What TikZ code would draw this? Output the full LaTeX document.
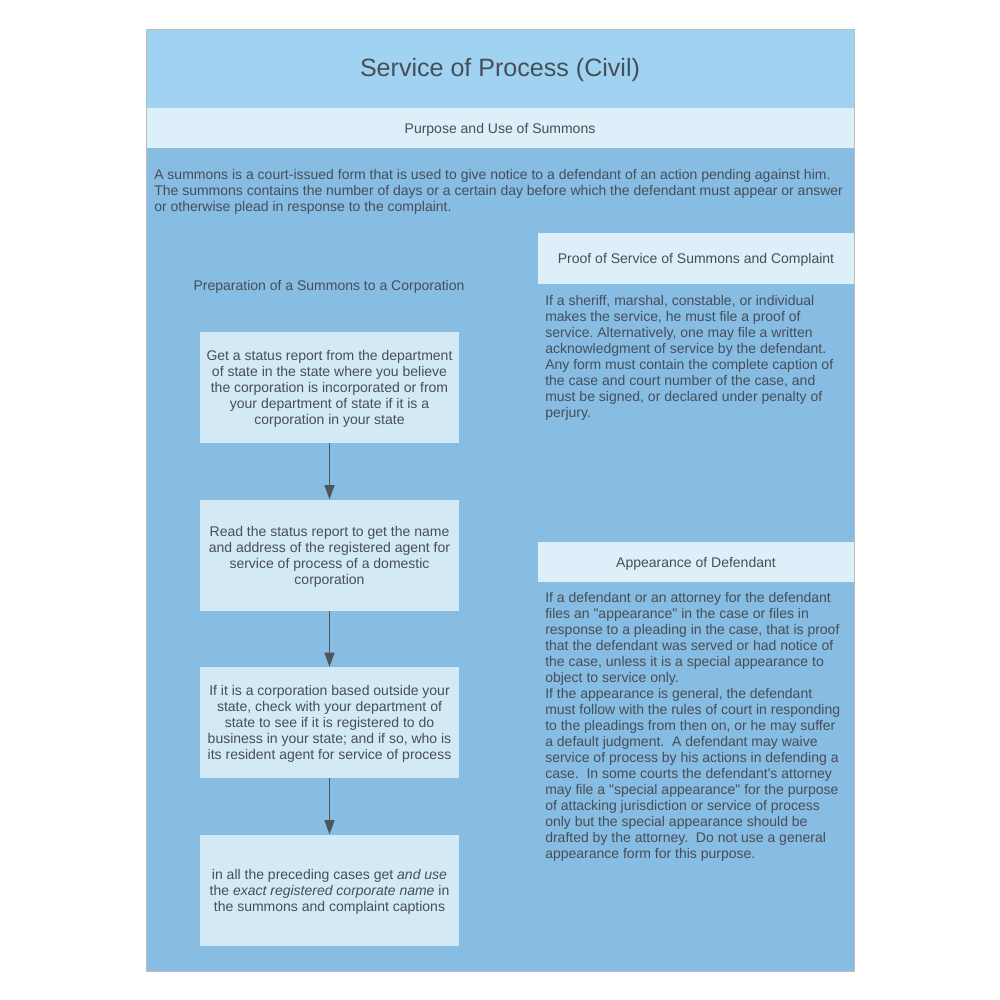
\documentclass[tikz,border=0pt]{standalone}
\usepackage{fontspec}
\setmainfont{Liberation Sans}
\usetikzlibrary{arrows.meta}
\frenchspacing
\definecolor{titleband}{HTML}{9FD3F1}
\definecolor{subband}{HTML}{DDEFF9}
\definecolor{bodyblue}{HTML}{87BCE3}
\definecolor{stepfill}{HTML}{D3E9F6}
\definecolor{frame}{HTML}{BDBDBD}
\definecolor{txt}{HTML}{474E57}
\definecolor{arrowc}{HTML}{4F5459}
\newcommand{\dq}{\textquotedbl}
\tikzset{
  bodyfont/.style={font=\fontsize{10.5}{12}\selectfont\frenchspacing, text=txt},
  stepbox/.style={fill=stepfill, draw=none, minimum width=259*0.75pt, minimum height=111*0.75pt, inner sep=0pt, align=center, bodyfont},
  hdrbox/.style={fill=subband, draw=none, inner sep=0pt, align=center, bodyfont},
  para/.style={inner sep=0pt, align=left, bodyfont, anchor=west},
  flow/.style={draw=arrowc, line width=0.75pt, -{Triangle[length=10.5pt,width=7.5pt]}}
}
\begin{document}
\begin{tikzpicture}[x=0.75pt,y=-0.75pt]
\useasboundingbox (0,0) rectangle (1000,1000);
\fill[white] (0,0) rectangle (1000,1000);
% body
\fill[bodyblue] (146,29) rectangle (854,971);
\fill[titleband] (146,29) rectangle (854,108);
\fill[subband] (146,108) rectangle (854,148);
\draw[frame, line width=0.75pt] (146,29) rectangle (854,971);
\node[font=\fontsize{18.8}{22}\selectfont, text=txt] (title) at (500,70) {Service of Process (Civil)};
\node[bodyfont] (purpose) at (500,129.5) {Purpose and Use of Summons};
\node[para] (intro) at (154,191.5) {A summons is a court-issued form that is used to give notice to a defendant of an action pending against him.\\The summons contains the number of days or a certain day before which the defendant must appear or answer\\or otherwise plead in response to the complaint.};
% right column
\node[hdrbox, minimum width=316*0.75pt, minimum height=51*0.75pt] (proofhdr) at (696,258.5) {};
\node[bodyfont] (prooflbl) at (696,260) {Proof of Service of Summons and Complaint};
\node[para] (prooftxt) at (545,357.5) {If a sheriff, marshal, constable, or individual\\makes the service, he must file a proof of\\service. Alternatively, one may file a written\\acknowledgment of service by the defendant.\\Any form must contain the complete caption of\\the case and court number of the case, and\\must be signed, or declared under penalty of\\perjury.};
\node[hdrbox, minimum width=316*0.75pt, minimum height=40*0.75pt] (apphdr) at (696,562) {};
\node[bodyfont] (applbl) at (696,563.5) {Appearance of Defendant};
\node[para] (apptxt) at (545,726.5) {If a defendant or an attorney for the defendant\\files an \dq appearance\dq\ in the case or files in\\response to a pleading in the case, that is proof\\that the defendant was served or had notice of\\the case, unless it is a special appearance to\\object to service only.\\If the appearance is general, the defendant\\must follow with the rules of court in responding\\to the pleadings from then on, or he may suffer\\a default judgment.\ \ A defendant may waive\\service of process by his actions in defending a\\case.\ \ In some courts the defendant\textquotesingle s attorney\\may file a \dq special appearance\dq\ for the purpose\\of attacking jurisdiction or service of process\\only but the special appearance should be\\drafted by the attorney.\ \ Do not use a general\\appearance form for this purpose.};
% left column
\node[bodyfont] (prephdr) at (329,286.5) {Preparation of a Summons to a Corporation};
\node[stepbox] (s1) at (329.5,387.5) {};
\node[stepbox] (s2) at (329.5,555) {};
\node[stepbox] (s3) at (329.5,722.5) {};
\node[stepbox] (s4) at (329.5,890) {};
\node[bodyfont, align=center] (t1) at (329.5,389) {Get a status report from the department\\of state in the state where you believe\\the corporation is incorporated or from\\your department of state if it is a\\corporation in your state};
\node[bodyfont, align=center] (t2) at (329.5,556.5) {Read the status report to get the name\\and address of the registered agent for\\service of process of a domestic\\corporation};
\node[bodyfont, align=center] (t3) at (329.5,724) {If it is a corporation based outside your\\state, check with your department of\\state to see if it is registered to do\\business in your state; and if so, who is\\its resident agent for service of process};
\node[bodyfont, align=center] (t4) at (329.5,891.5) {in all the preceding cases get \textit{and use}\\the \textit{exact registered corporate name} in\\the summons and complaint captions};
\draw[flow] (s1) -- (s2);
\draw[flow] (s2) -- (s3);
\draw[flow] (s3) -- (s4);
\end{tikzpicture}
\end{document}
